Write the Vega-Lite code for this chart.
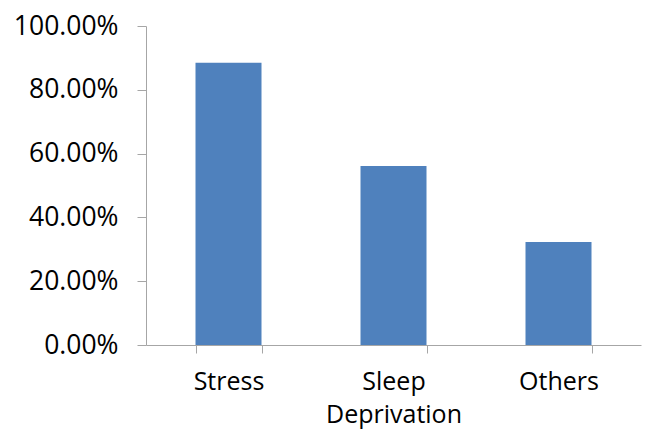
{
  "$schema": "https://vega.github.io/schema/vega-lite/v6.json",
  "autosize": "none",
  "padding": {"left": 146, "top": 26, "right": 5, "bottom": 98},
  "width": 495,
  "height": 319,
  "background": "white",
  "config": {"view": {"stroke": null}, "font": "Open Sans"},
  "data": {"values": [
    {"cause": "Stress", "share": 0.885},
    {"cause": "Sleep Deprivation", "share": 0.561},
    {"cause": "Others", "share": 0.323}
  ]},
  "mark": {"type": "bar", "color": "#4F81BD"},
  "encoding": {
    "x": {
      "field": "cause", "type": "nominal", "sort": null,
      "scale": {"paddingInner": 0.6, "paddingOuter": 0.3},
      "axis": {
        "title": null, "labelAngle": 0, "tickBand": "extent",
        "domainColor": "#A6A6A6", "tickColor": "#A6A6A6", "tickSize": 8,
        "labelFont": "Open Sans", "labelFontSize": 25, "labelColor": "#000000",
        "labelPadding": 16, "labelLineHeight": 33,
        "labelExpr": "split(datum.label, ' ')"
      }
    },
    "y": {
      "field": "share", "type": "quantitative",
      "scale": {"domain": [0, 1], "nice": false},
      "axis": {
        "title": null, "format": ".2%", "values": [0, 0.2, 0.4, 0.6, 0.8, 1],
        "grid": false, "domainColor": "#A6A6A6", "tickColor": "#A6A6A6", "tickSize": 9,
        "labelFont": "Open Sans", "labelFontSize": 26.5, "labelColor": "#000000",
        "labelPadding": 19
      }
    }
  }
}
